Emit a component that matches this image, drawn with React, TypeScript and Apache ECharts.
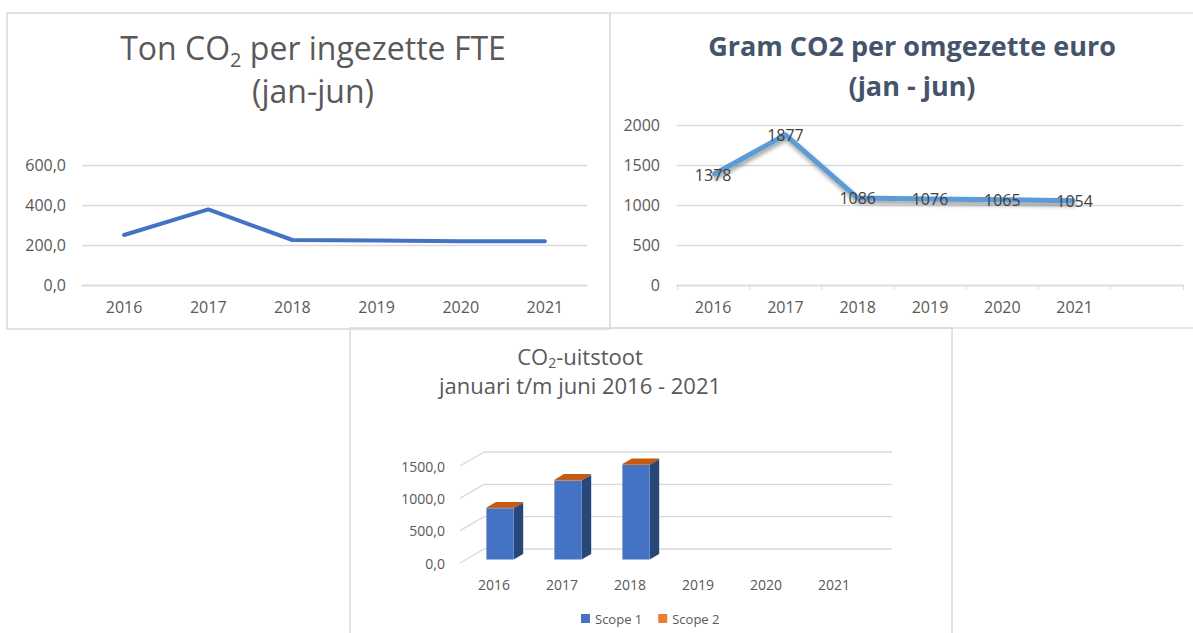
import React, { useEffect, useRef } from 'react';
import * as echarts from 'echarts';

// ---- data ----
const years = ['2016', '2017', '2018', '2019', '2020', '2021'];
const tonPerFte = [250, 378, 225, 223, 219, 219];
const gramPerEuro = [1378, 1877, 1086, 1076, 1065, 1054];
const euroCategories = [...years, ''];
const scope1 = [792, 1220, 1462, null, null, null];
const scope2 = [12, 14, 14, null, null, null];
const wallTicks = [0, 500, 1000, 1500];
const seriesNames = ['Scope 1', 'Scope 2'];

const FONT = '"Open Sans", sans-serif';
const AXIS_GREY = '#595959';
const GRID_GREY = '#d9d9d9';

// 3D look (styling constants)
const DEPTH_X = 24;
const DEPTH_Y = -14;
const BAR_T0 = 0.25;
const BAR_T = 0.4;

const commaFmt = (v: number) => v.toFixed(1).replace('.', ',');
const plainFmt = (v: number) => String(v);

function makeBarRender(front: string, side: string, top: string) {
  return (params: any, api: any) => {
    const i = api.value(0);
    const base = api.value(1);
    const t = api.value(2);
    if (t == null || isNaN(t)) return null;
    const band = api.size([1, 0])[0];
    const pb = api.coord([i, base]);
    const pt = api.coord([i, t]);
    const w = band * 0.4;
    const ox = DEPTH_X * BAR_T0;
    const oy = DEPTH_Y * BAR_T0;
    const dx = DEPTH_X * BAR_T;
    const dy = DEPTH_Y * BAR_T;
    const x0 = pb[0] + ox - w / 2;
    const x1 = x0 + w;
    const yb = pb[1] + oy;
    const yt = pt[1] + oy;
    return {
      type: 'group',
      children: [
        {
          type: 'polygon',
          shape: { points: [[x1, yt], [x1 + dx, yt + dy], [x1 + dx, yb + dy], [x1, yb]] },
          style: { fill: side },
        },
        {
          type: 'rect',
          shape: { x: x0, y: yt, width: w, height: yb - yt },
          style: { fill: front },
        },
        {
          type: 'polygon',
          shape: { points: [[x0, yt], [x1, yt], [x1 + dx, yt + dy], [x0 + dx, yt + dy]] },
          style: { fill: top },
        },
      ],
    };
  };
}

function wallRender(params: any, api: any) {
  const v = api.value(1);
  const band = api.size([1, 0])[0];
  const p = api.coord([0, v]);
  const left = p[0] - band / 2;
  const width = band * years.length;
  return {
    type: 'polyline',
    shape: {
      points: [
        [left, p[1]],
        [left + DEPTH_X, p[1] + DEPTH_Y],
        [left + DEPTH_X + width, p[1] + DEPTH_Y],
      ],
    },
    style: { stroke: GRID_GREY, lineWidth: 1.3, fill: 'none' },
  };
}

export default function App() {
  const ref = useRef<HTMLDivElement>(null);
  useEffect(() => {
    if (!ref.current) return;
    const chart = echarts.init(ref.current, undefined, { renderer: 'svg' });

    const s1Data = scope1.map((v, i) => (v == null ? [i, 0, NaN] : [i, 0, v]));
    const s2Data = scope2.map((v, i) =>
      v == null || scope1[i] == null ? [i, 0, NaN] : [i, scope1[i] as number, (scope1[i] as number) + v]
    );
    const wallData = wallTicks.map((v) => [0, v]);

    chart.setOption({
      animation: false,
      textStyle: { fontFamily: FONT },
      title: [
        {
          text: 'Ton CO{sub|2} per ingezette FTE\n(jan-jun)',
          left: 308,
          top: 21,
          textAlign: 'center',
          textStyle: {
            fontFamily: FONT,
            fontSize: 32,
            fontWeight: 'normal',
            color: AXIS_GREY,
            lineHeight: 43,
            rich: {
              sub: { fontFamily: FONT, fontSize: 20, lineHeight: 20, color: AXIS_GREY, verticalAlign: 'bottom' },
            },
          },
        },
        {
          text: 'Gram CO2 per omgezette euro\n(jan - jun)',
          left: 907,
          top: 20,
          textAlign: 'center',
          textStyle: {
            fontFamily: FONT,
            fontSize: 27,
            fontWeight: 'bold',
            color: '#44546a',
            lineHeight: 40,
          },
        },
        {
          text: 'CO{sub|2}-uitstoot',
          left: 580,
          top: 342,
          padding: 0,
          textAlign: 'center',
          textStyle: {
            fontFamily: FONT,
            fontSize: 22,
            fontWeight: 'normal',
            color: AXIS_GREY,
            lineHeight: 27,
            rich: {
              sub: { fontFamily: FONT, fontSize: 14, lineHeight: 17, color: AXIS_GREY, verticalAlign: 'bottom' },
            },
          },
        },
        {
          text: 'januari t/m juni 2016 - 2021',
          left: 580,
          top: 372,
          padding: 0,
          textAlign: 'center',
          textStyle: {
            fontFamily: FONT,
            fontSize: 22,
            fontWeight: 'normal',
            color: AXIS_GREY,
            lineHeight: 25,
          },
        },
      ],
      legend: {
        data: seriesNames,
        left: 581,
        top: 612,
        padding: 0,
        itemWidth: 9,
        itemHeight: 9,
        itemGap: 16,
        icon: 'rect',
        textStyle: { fontFamily: FONT, fontSize: 13, color: AXIS_GREY },
      },
      grid: [
        { left: 82, top: 165, width: 505, height: 120 },
        { left: 677, top: 125, width: 506, height: 160 },
        { left: 460, top: 466, width: 408, height: 97 },
      ],
      xAxis: [
        {
          type: 'category',
          gridIndex: 0,
          data: years,
          axisLine: { lineStyle: { color: GRID_GREY, width: 1.3 } },
          axisTick: { show: false },
          axisLabel: { color: AXIS_GREY, fontSize: 16, margin: 14, fontFamily: FONT },
        },
        {
          type: 'category',
          gridIndex: 1,
          data: euroCategories,
          axisLine: { lineStyle: { color: '#d6dce4', width: 1.3 } },
          axisTick: { show: true, length: 5, lineStyle: { color: '#d6dce4' } },
          axisLabel: { color: AXIS_GREY, fontSize: 16, margin: 14, fontFamily: FONT },
        },
        {
          type: 'category',
          gridIndex: 2,
          data: years,
          axisLine: { show: false },
          axisTick: { show: false },
          axisLabel: { color: AXIS_GREY, fontSize: 14, margin: 14, fontFamily: FONT },
        },
      ],
      yAxis: [
        {
          type: 'value',
          gridIndex: 0,
          min: 0,
          max: 600,
          interval: 200,
          axisLine: { show: false },
          axisTick: { show: false },
          splitLine: { lineStyle: { color: GRID_GREY, width: 1.3 } },
          axisLabel: { color: AXIS_GREY, fontSize: 16, margin: 16, formatter: commaFmt, fontFamily: FONT },
        },
        {
          type: 'value',
          gridIndex: 1,
          min: 0,
          max: 2000,
          interval: 500,
          axisLine: { show: false },
          axisTick: { show: false },
          splitLine: { lineStyle: { color: '#d6dce4', width: 1.3 } },
          axisLabel: { color: AXIS_GREY, fontSize: 16, margin: 17, formatter: plainFmt, fontFamily: FONT },
        },
        {
          type: 'value',
          gridIndex: 2,
          min: 0,
          max: 1500,
          interval: 500,
          axisLine: { show: false },
          axisTick: { show: false },
          splitLine: { show: false },
          axisLabel: { color: AXIS_GREY, fontSize: 14, margin: 15, formatter: commaFmt, fontFamily: FONT },
        },
      ],
      series: [
        {
          type: 'line',
          name: 'Ton CO2 per FTE',
          xAxisIndex: 0,
          yAxisIndex: 0,
          data: tonPerFte,
          showSymbol: false,
          symbol: 'none',
          lineStyle: { color: '#4472c4', width: 4, cap: 'round', join: 'round' },
          itemStyle: { color: '#4472c4' },
        },
        {
          type: 'line',
          name: 'Gram CO2 per euro',
          xAxisIndex: 1,
          yAxisIndex: 1,
          data: gramPerEuro,
          symbol: 'circle',
          symbolSize: 2,
          itemStyle: { color: '#5b9bd5' },
          lineStyle: {
            color: '#5b9bd5',
            width: 5,
            join: 'round',
            shadowColor: 'rgba(0,0,0,0.4)',
            shadowBlur: 4,
            shadowOffsetX: 1,
            shadowOffsetY: 3,
          },
          label: {
            show: true,
            position: 'inside',
            color: '#404040',
            fontSize: 16,
            fontFamily: FONT,
          },
          z: 3,
        },
        {
          type: 'custom',
          name: 'wand',
          xAxisIndex: 2,
          yAxisIndex: 2,
          data: wallData,
          encode: { x: 0, y: 1 },
          renderItem: wallRender,
          silent: true,
          z: 1,
        },
        {
          type: 'custom',
          name: seriesNames[0],
          xAxisIndex: 2,
          yAxisIndex: 2,
          data: s1Data,
          encode: { x: 0, y: [1, 2] },
          itemStyle: { color: '#4472c4' },
          renderItem: makeBarRender('#4472c4', '#284779', '#5a86d0'),
          z: 2,
        },
        {
          type: 'custom',
          name: seriesNames[1],
          xAxisIndex: 2,
          yAxisIndex: 2,
          data: s2Data,
          encode: { x: 0, y: [1, 2] },
          itemStyle: { color: '#ed7d31' },
          renderItem: makeBarRender('#ed7d31', '#a9541b', '#c55a11'),
          z: 3,
        },
      ],
      graphic: [
        {
          type: 'rect',
          silent: true,
          z: -10,
          shape: { x: 7, y: 13, width: 603, height: 316 },
          style: { fill: 'none', stroke: GRID_GREY, lineWidth: 1.5 },
        },
        {
          type: 'rect',
          silent: true,
          z: -10,
          shape: { x: 610, y: 13, width: 600, height: 315 },
          style: { fill: 'none', stroke: '#dde2e8', lineWidth: 1.5 },
        },
        {
          type: 'rect',
          silent: true,
          z: -10,
          shape: { x: 350, y: 328, width: 602, height: 320 },
          style: { fill: 'none', stroke: GRID_GREY, lineWidth: 1.5 },
        },
      ],
    });
    return () => chart.dispose();
  }, []);

  return (
    <div
      ref={ref}
      style={{ position: 'absolute', left: 0, top: 0, width: 1193, height: 633, background: '#ffffff' }}
    />
  );
}
